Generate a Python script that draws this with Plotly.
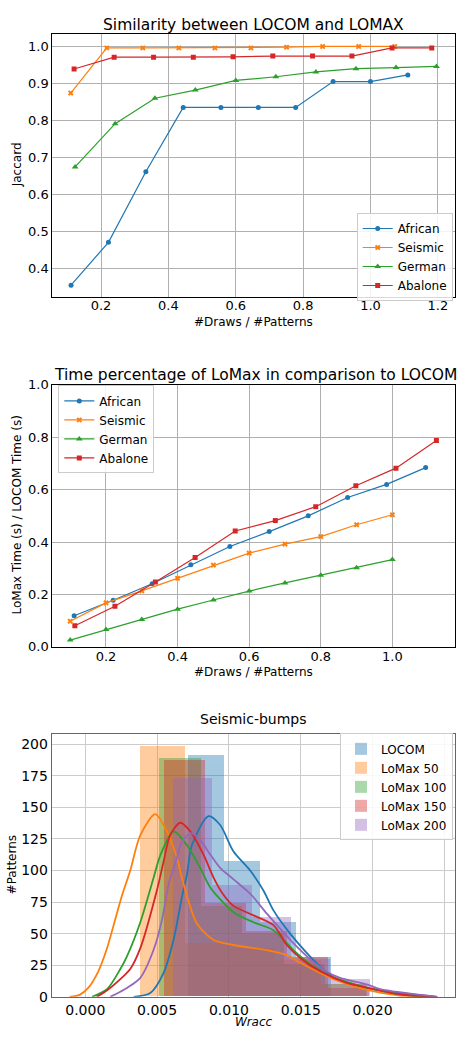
import plotly.graph_objects as go

# ---------------- Similarity between LOCOM and LOMAX (Jaccard) ----------------
sim_african_x = [0.111, 0.222, 0.333, 0.444, 0.556, 0.667, 0.778, 0.889, 1.000, 1.111]
sim_african_y = [0.354, 0.470, 0.661, 0.835, 0.835, 0.835, 0.835, 0.905, 0.905, 0.923]
sim_seismic_x = [0.110, 0.217, 0.324, 0.431, 0.538, 0.645, 0.751, 0.858, 0.965, 1.072]
sim_seismic_y = [0.874, 0.996, 0.996, 0.996, 0.996, 0.996, 0.998, 1.000, 1.000, 1.000]
sim_german_x = [0.123, 0.242, 0.360, 0.480, 0.600, 0.719, 0.838, 0.957, 1.076, 1.196]
sim_german_y = [0.674, 0.791, 0.860, 0.882, 0.908, 0.918, 0.931, 0.940, 0.943, 0.946]
sim_abalone_x = [0.120, 0.239, 0.356, 0.474, 0.592, 0.710, 0.828, 0.945, 1.064, 1.182]
sim_abalone_y = [0.939, 0.971, 0.971, 0.971, 0.972, 0.974, 0.974, 0.974, 0.996, 0.996]

# ---------------- LoMax time / LOCOM time ----------------
time_african_x = [0.111, 0.220, 0.329, 0.437, 0.546, 0.656, 0.765, 0.875, 0.984, 1.093]
time_african_y = [0.119, 0.178, 0.241, 0.313, 0.383, 0.440, 0.500, 0.570, 0.620, 0.684]
time_seismic_x = [0.1, 0.2, 0.3, 0.4, 0.5, 0.6, 0.7, 0.8, 0.9, 1.0]
time_seismic_y = [0.098, 0.168, 0.214, 0.262, 0.312, 0.358, 0.392, 0.421, 0.466, 0.504]
time_german_x = [0.1, 0.2, 0.3, 0.4, 0.5, 0.6, 0.7, 0.8, 0.9, 1.0]
time_german_y = [0.026, 0.066, 0.105, 0.144, 0.179, 0.213, 0.244, 0.273, 0.302, 0.333]
time_abalone_x = [0.113, 0.225, 0.338, 0.449, 0.561, 0.673, 0.786, 0.898, 1.010, 1.123]
time_abalone_y = [0.081, 0.155, 0.248, 0.341, 0.442, 0.482, 0.535, 0.615, 0.682, 0.787]

# ---------------- Seismic-bumps Wracc distributions ----------------
hist_names = ["LOCOM", "LoMax 50", "LoMax 100", "LoMax 150", "LoMax 200"]
hist_bin_width = [0.00250, 0.00315, 0.00290, 0.00285, 0.00274]
hist_locom_left = [0.00712, 0.00962, 0.01212, 0.01462]
hist_locom_h = [191, 107, 59, 31]
hist_l50_left = [0.00376, 0.00691, 0.01006, 0.01321, 0.01636]
hist_l50_h = [198, 42, 38, 29, 10]
hist_l100_left = [0.00510, 0.00800, 0.01090, 0.01380, 0.01670]
hist_l100_h = [189, 72, 50, 26, 10]
hist_l150_left = [0.00545, 0.00830, 0.01115, 0.01400, 0.01685]
hist_l150_h = [187, 74, 52, 31, 7]
hist_l200_left = [0.00608, 0.00882, 0.01156, 0.01430, 0.01704]
hist_l200_h = [173, 88, 63, 30, 14]

kde_locom_x = [0.00336, 0.00452, 0.00545, 0.00614, 0.00673, 0.00708, 0.00742, 0.00858, 0.00939,
               0.01032, 0.01148, 0.01241, 0.01310, 0.01426, 0.01543, 0.01658, 0.01774, 0.02006, 0.02430]
kde_locom_y = [0, 3, 19, 45, 79, 97, 120, 143, 136, 115, 100, 84, 68.4, 50, 34.6, 21.5, 12.5, 6, 0]
kde_l50_x = [-0.0011, -0.0004, 0.0002, 0.0009, 0.0015, 0.0021, 0.00255, 0.00313, 0.00383, 0.00487,
             0.00568, 0.00638, 0.0068, 0.00777, 0.00893, 0.01032, 0.01264, 0.01403, 0.01496, 0.01728,
             0.0196, 0.0219, 0.0245]
kde_l50_y = [0, 1.5, 7, 20, 38, 62, 80, 100, 128, 144.6, 131, 110, 91, 58, 45, 41, 37, 33, 27, 14,
             5.5, 1, 0]
kde_l100_x = [0.00047, 0.00151, 0.00244, 0.0029, 0.00383, 0.00475, 0.00522, 0.00614, 0.00708, 0.0080,
              0.0087, 0.01032, 0.01171, 0.0131, 0.01449, 0.01589, 0.01728, 0.0196, 0.0219, 0.0245]
kde_l100_y = [0, 6, 22, 32, 59, 94, 112, 131, 120, 102, 86.6, 67, 59, 52.7, 37, 24, 15.6, 7.3, 2, 0]
kde_l150_x = [0.0008, 0.0015, 0.00244, 0.00313, 0.00383, 0.0050, 0.00545, 0.00591, 0.00661, 0.00731,
              0.00823, 0.00893, 0.00958, 0.01032, 0.01171, 0.0131, 0.01403, 0.01496, 0.01635, 0.01821,
              0.0196, 0.0219, 0.0245]
kde_l150_y = [0, 5, 14, 22, 38.5, 85, 107, 128, 137.8, 131, 112.6, 94.4, 81.4, 72, 64.5, 56.7, 41,
              30.7, 20.3, 11, 7.3, 2, 0]
kde_l200_x = [0.00174, 0.00244, 0.0029, 0.00383, 0.00475, 0.00533, 0.0058, 0.00638, 0.00673, 0.00735,
              0.0080, 0.0087, 0.00939, 0.01032, 0.01125, 0.01171, 0.01264, 0.01357, 0.01449, 0.01543,
              0.01658, 0.01774, 0.0196, 0.02053, 0.0245]
kde_l200_y = [0, 4, 7, 15, 37, 60.5, 89, 110, 123, 129.5, 124, 112.6, 102, 93, 84, 78.8, 65.8, 54,
              42.4, 32, 21.5, 15, 9.8, 6, 0]

BLUE, ORANGE, GREEN, RED, PURPLE = "#1f77b4", "#ff7f0e", "#2ca02c", "#d62728", "#9467bd"
FONT = "DejaVu Sans, Verdana, sans-serif"

fig = go.Figure()

series_specs = [
    ("African", BLUE, "circle", 5),
    ("Seismic", ORANGE, "x", 5),
    ("German", GREEN, "triangle-up", 6),
    ("Abalone", RED, "square", 5),
]

sim_data = [(sim_african_x, sim_african_y), (sim_seismic_x, sim_seismic_y),
            (sim_german_x, sim_german_y), (sim_abalone_x, sim_abalone_y)]
time_data = [(time_african_x, time_african_y), (time_seismic_x, time_seismic_y),
             (time_german_x, time_german_y), (time_abalone_x, time_abalone_y)]

for (name, col, sym, ms), (xs, ys) in zip(series_specs, sim_data):
    fig.add_trace(go.Scatter(x=xs, y=ys, mode="lines+markers", name=name,
                             line=dict(color=col, width=1.2),
                             marker=dict(symbol=sym, size=ms, color=col),
                             xaxis="x", yaxis="y", legend="legend"))

for (name, col, sym, ms), (xs, ys) in zip(series_specs, time_data):
    fig.add_trace(go.Scatter(x=xs, y=ys, mode="lines+markers", name=name,
                             line=dict(color=col, width=1.2),
                             marker=dict(symbol=sym, size=ms, color=col),
                             xaxis="x2", yaxis="y2", legend="legend2"))

hist_colors = [BLUE, ORANGE, GREEN, RED, PURPLE]
hist_lefts = [hist_locom_left, hist_l50_left, hist_l100_left, hist_l150_left, hist_l200_left]
hist_heights = [hist_locom_h, hist_l50_h, hist_l100_h, hist_l150_h, hist_l200_h]
for name, col, w, lefts, hs in zip(hist_names, hist_colors, hist_bin_width, hist_lefts, hist_heights):
    fig.add_trace(go.Bar(x=lefts, y=hs, width=w, offset=0, name=name,
                         marker=dict(color=col, line=dict(width=0)), opacity=0.4,
                         xaxis="x3", yaxis="y3", legend="legend3"))

kde_x = [kde_locom_x, kde_l50_x, kde_l100_x, kde_l150_x, kde_l200_x]
kde_y = [kde_locom_y, kde_l50_y, kde_l100_y, kde_l150_y, kde_l200_y]
for col, xs, ys in zip(hist_colors, kde_x, kde_y):
    fig.add_trace(go.Scatter(x=xs, y=ys, mode="lines", showlegend=False,
                             line=dict(color=col, width=1.8, shape="spline", smoothing=0.8),
                             xaxis="x3", yaxis="y3", hoverinfo="skip"))

W, H = 464, 1038
def py(p):
    return 1 - p / H

xdom = [52.3 / W, 455 / W]
grid = "#b0b0b0"
axis_common = dict(showgrid=True, gridcolor=grid, gridwidth=1, zeroline=False,
                   showline=True, linecolor="black", linewidth=1, mirror=True,
                   ticks="", tickfont=dict(family=FONT, size=13, color="black"))

legend_common = dict(xanchor="left", yanchor="top", bgcolor="rgba(255,255,255,0.85)",
                     bordercolor="#cccccc", borderwidth=1,
                     font=dict(family=FONT, size=12), tracegroupgap=0)

fig.update_layout(
    width=W, height=H, margin=dict(l=0, r=0, t=0, b=0),
    paper_bgcolor="white", plot_bgcolor="white",
    font=dict(family=FONT, color="black"),
    barmode="overlay", bargap=0,
    xaxis=dict(domain=xdom, anchor="y", range=[0.0553, 1.251], tickvals=[0.2, 0.4, 0.6, 0.8, 1.0, 1.2],
               tickformat=".1f", ticklabelstandoff=-3, **axis_common),
    yaxis=dict(domain=[py(294), py(27.3)], anchor="x", range=[0.3227, 1.034],
               tickvals=[0.4, 0.5, 0.6, 0.7, 0.8, 0.9, 1.0], tickformat=".1f", **axis_common),
    xaxis2=dict(domain=xdom, anchor="y2", range=[0.05, 1.175], tickvals=[0.2, 0.4, 0.6, 0.8, 1.0],
                tickformat=".1f", ticklabelstandoff=-3, **axis_common),
    yaxis2=dict(domain=[py(649.3), py(383.3)], anchor="x2", range=[0, 1],
                tickvals=[0, 0.2, 0.4, 0.6, 0.8, 1.0], tickformat=".1f", **axis_common),
    xaxis3=dict(domain=[51.7 / W, 455 / W], anchor="y3", range=[-0.00234, 0.02574],
                tickvals=[0, 0.005, 0.01, 0.015, 0.02, 0.025], tickformat=".3f",
                showgrid=True, gridcolor="#cccccc", zeroline=False, showline=True,
                linecolor="#666666", linewidth=1, mirror=True, ticks="",
                tickfont=dict(family=FONT, size=14, color="black")),
    yaxis3=dict(domain=[py(1004.3), py(738)], anchor="x3", range=[0, 207.8],
                tickvals=[0, 25, 50, 75, 100, 125, 150, 175, 200],
                showgrid=True, gridcolor="#cccccc", zeroline=False, showline=True,
                linecolor="#666666", linewidth=1, mirror=True, ticks="",
                tickfont=dict(family=FONT, size=14, color="black")),
    legend=dict(x=356.7 / W, y=py(209), **legend_common),
    legend2=dict(x=58.3 / W, y=py(384), **legend_common),
    legend3=dict(x=340 / W, y=py(737), **legend_common),
)

def note(text, x, y, size, angle=0, italic=False):
    fig.add_annotation(text=text, x=x / W, y=py(y), xref="paper", yref="paper",
                       showarrow=False, textangle=angle, xanchor="center", yanchor="middle",
                       font=dict(family=FONT, size=size, color="black",
                                 style="italic" if italic else "normal"))

# titles
note("Similarity between LOCOM and LOMAX", 253.5, 18, 15.5)
note("Time percentage of LoMax in comparison to LOCOM", 255.5, 373, 15.5)
note("Seismic-bumps", 253.5, 722, 14)
# axis labels
note("Jaccard", 17, 160.6, 12, angle=-90)
note("#Draws / #Patterns", 253.5, 320, 12)
note("LoMax Time (s) / LOCOM Time (s)", 17, 516, 12, angle=-90)
note("#Draws / #Patterns", 253.5, 675, 12)
note("#Patterns", 12, 871, 12, angle=-90)
note("Wracc", 253.5, 1030, 12, italic=True)

fig.write_html("out.html")
